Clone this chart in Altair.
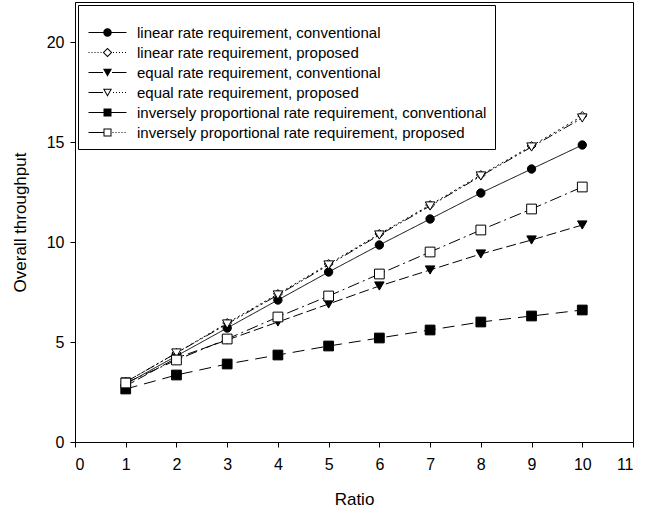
import altair as alt
import pandas as pd

# ---------------- data ----------------
ratio = [1, 2, 3, 4, 5, 6, 7, 8, 9, 10]

series_names = [
    "linear rate requirement, conventional",
    "linear rate requirement, proposed",
    "equal rate requirement, conventional",
    "equal rate requirement, proposed",
    "inversely proportional rate requirement, conventional",
    "inversely proportional rate requirement, proposed",
]

linear_conventional = [2.9, 4.3, 5.7, 7.1, 8.5, 9.85, 11.15, 12.45, 13.65, 14.85]
linear_proposed = [3.0, 4.45, 5.95, 7.4, 8.9, 10.4, 11.85, 13.35, 14.8, 16.3]
equal_conventional = [2.8, 4.2, 5.1, 6.0, 6.9, 7.8, 8.6, 9.4, 10.1, 10.85]
equal_proposed = [3.0, 4.45, 5.9, 7.35, 8.85, 10.35, 11.8, 13.3, 14.75, 16.2]
inverse_conventional = [2.65, 3.35, 3.9, 4.35, 4.8, 5.2, 5.6, 6.0, 6.3, 6.6]
inverse_proposed = [2.95, 4.1, 5.15, 6.25, 7.3, 8.4, 9.5, 10.6, 11.65, 12.75]

all_values = [linear_conventional, linear_proposed, equal_conventional,
              equal_proposed, inverse_conventional, inverse_proposed]

x_ticks = list(range(0, 12))
y_ticks = [0, 5, 10, 15, 20]

rows = []
for name, vals in zip(series_names, all_values):
    for xv, yv in zip(ratio, vals):
        rows.append({"x": xv, "y": yv, "series": name})
df = pd.DataFrame(rows)

# ---------------- styles ----------------
dashes = [[1, 0], [2, 3], [10, 4], [10, 3, 2, 3, 2, 3], [12, 7], [12, 4, 2, 4]]
marker_shapes = ["circle", "diamond", "triangle-down", "triangle-down", "square", "square"]
marker_fills = ["black", "white", "black", "white", "black", "white"]
marker_sizes = [70, 80, 90, 90, 95, 95]

# legend symbols: line sample + marker as filled custom paths (unit = 5px at size 100)
T = 0.1  # half line thickness


def solid(a, b):
    return f"M{a},{-T} H{b} V{T} H{a} Z "


def dotted(a, b):
    s = ""
    p = a
    while p + 0.2 <= b + 1e-9:
        s += f"M{p:.2f},{-T} h0.2 v{2 * T} h-0.2 Z "
        p += 0.6
    return s


circ = "M0.85,0 A0.85,0.85 0 1,1 -0.85,0 A0.85,0.85 0 1,1 0.85,0 Z "
diam_open = ("M0,-0.95 L0.95,0 L0,0.95 L-0.95,0 Z "
             "M0,-0.67 L-0.67,0 L0,0.67 L0.67,0 Z ")
tri_fill = "M-0.9,-0.75 L0.9,-0.75 L0,0.85 Z "
tri_open = ("M-0.9,-0.75 L0.9,-0.75 L0,0.85 Z "
            "M-0.56,-0.55 L0,0.44 L0.56,-0.55 Z ")
sq_fill = "M-0.8,-0.8 H0.8 V0.8 H-0.8 Z "
sq_open = ("M-0.8,-0.8 H0.8 V0.8 H-0.8 Z "
           "M-0.6,-0.6 V0.6 H0.6 V-0.6 Z ")

L = 3.8
legend_paths = [
    solid(-L, -0.8) + solid(0.8, L) + circ,
    dotted(-L, -1.1) + dotted(1.1, L) + diam_open,
    solid(-L, -0.9) + solid(0.9, L) + tri_fill,
    solid(-L, -0.9) + dotted(1.1, L) + tri_open,
    solid(-L, -0.8) + solid(0.8, L) + sq_fill,
    solid(-L, -0.8) + dotted(1.0, L) + sq_open,
]

FONT = "Liberation Sans"

axis_style = dict(
    grid=False, domainColor="black", tickColor="black", tickSize=5,
    labelFont=FONT, labelFontSize=16, labelColor="black",
    titleFont=FONT, titleFontSize=17, titleFontWeight="normal", titleColor="black",
)

x_enc = alt.X("x:Q", scale=alt.Scale(domain=[0, 11], nice=False),
              axis=alt.Axis(values=x_ticks, title="Ratio", format="d",
                            labelPadding=9, titlePadding=19, **axis_style))
y_enc = alt.Y("y:Q", scale=alt.Scale(domain=[0, 22], nice=False),
              axis=alt.Axis(values=y_ticks, title="Overall throughput", format="d",
                            labelPadding=6, titlePadding=17, **axis_style))

base = alt.Chart(df)

# one line layer and one marker layer per series (constant styles, no disabled legends)
line_layers = []
point_layers = []
for name, dash, shp, fl, sz in zip(series_names, dashes, marker_shapes, marker_fills, marker_sizes):
    sub = base.transform_filter(alt.datum.series == name)
    line_layers.append(
        sub.mark_line(color="black", strokeWidth=1, strokeDash=dash).encode(x=x_enc, y=y_enc)
    )
    point_layers.append(
        sub.mark_point(shape=shp, filled=True, fill=fl, stroke="black",
                       strokeWidth=1, opacity=1, size=sz).encode(x=x_enc, y=y_enc)
    )

# legend-only layer: its marks sit outside the plot and are clipped away
legend_layer = base.transform_calculate(y="-50").mark_point(
    filled=True, color="black", opacity=1, clip=True
).encode(
    x=x_enc, y=y_enc,
    shape=alt.Shape(
        "series:N",
        scale=alt.Scale(domain=series_names, range=legend_paths),
        legend=alt.Legend(
            title=" ", titleFontSize=8, titlePadding=4,
            orient="none", legendX=3, legendY=3,
            labelFont=FONT, labelFontSize=15, labelColor="black", labelLimit=600,
            symbolSize=100, symbolStrokeWidth=0, symbolFillColor="black",
            padding=8, symbolOffset=14, labelOffset=22, rowPadding=4,
            strokeColor="black", fillColor="white", cornerRadius=0,
        ),
    ),
)

chart = alt.layer(*line_layers, *point_layers, legend_layer).properties(
    width=558, height=440,
    autosize=alt.AutoSizeParams(type="none"),
    padding={"left": 75, "top": 2, "right": 12, "bottom": 78},
    view=alt.ViewBackground(stroke="black", strokeWidth=1),
)

chart.save("out.html", embed_options={"renderer": "svg", "actions": False})
